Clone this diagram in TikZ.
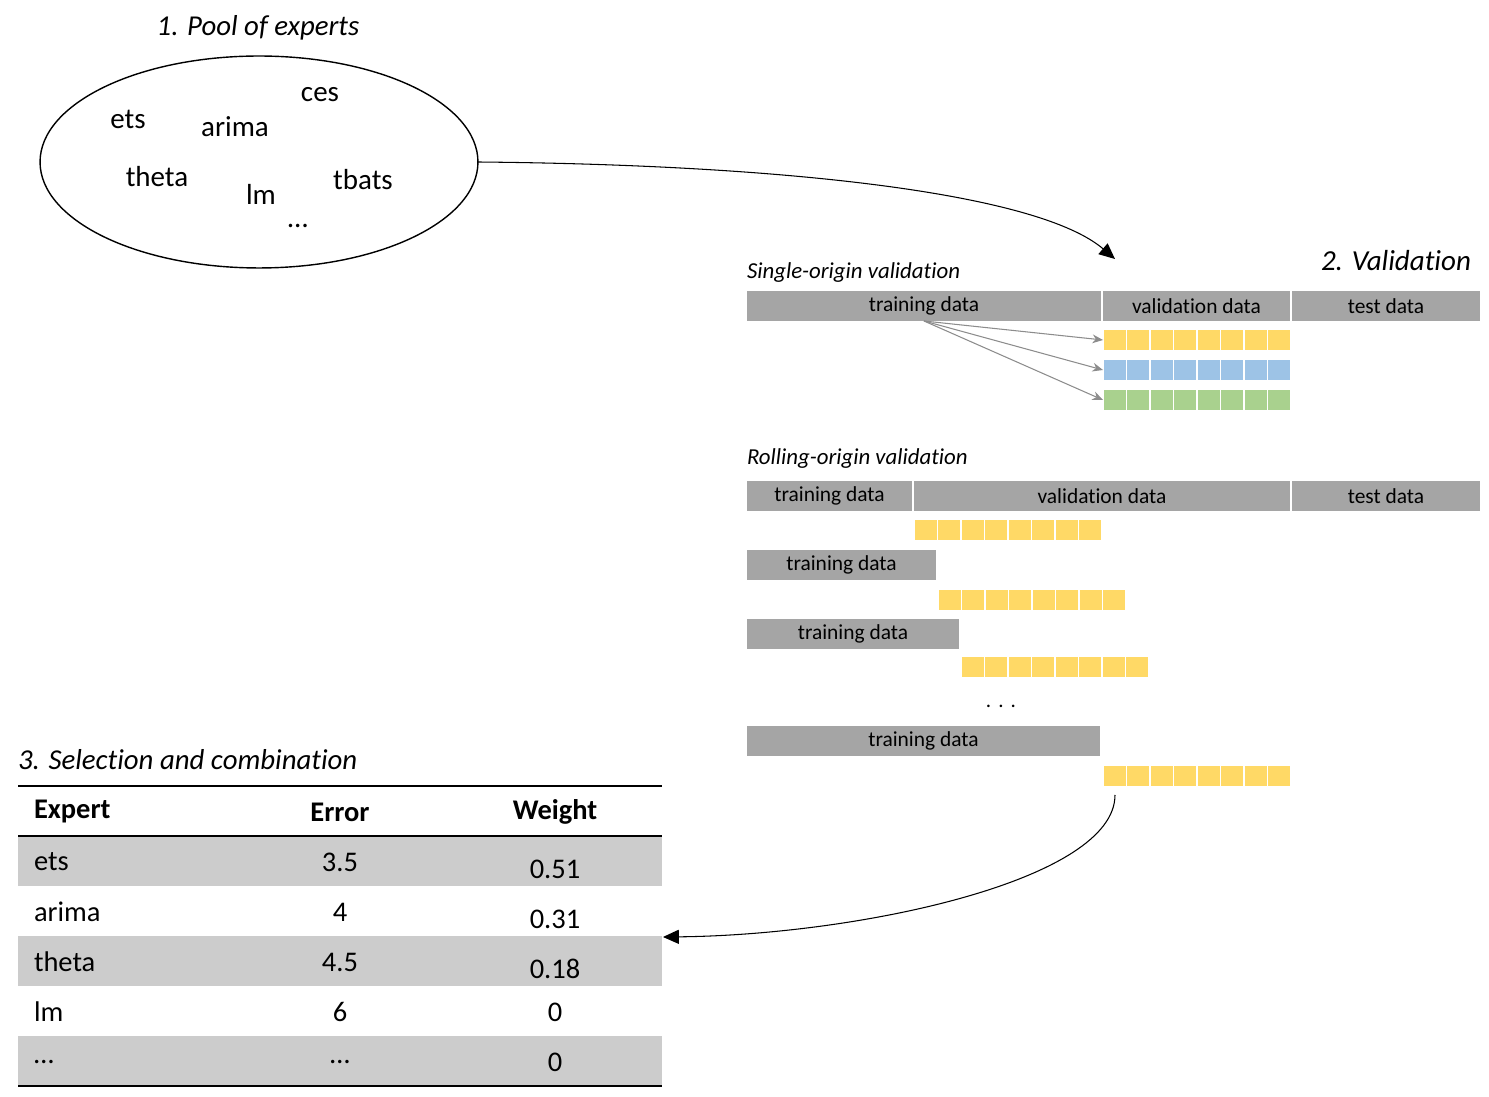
\documentclass[tikz,border=0pt]{standalone}
\usepackage{fontspec}
\setmainfont{Carlito}[Ligatures=NoCommon]
\usetikzlibrary{positioning, arrows.meta, shapes.geometric}

\definecolor{bargray}{HTML}{A5A5A5}
\definecolor{rowgray}{HTML}{CCCCCC}
\definecolor{sqyellow}{HTML}{FFD966}
\definecolor{sqblue}{HTML}{9DC3E6}
\definecolor{sqgreen}{HTML}{A9D18E}
\definecolor{arrgray}{HTML}{8C8C8C}

\newcommand{\fs}[1]{\fontsize{#1}{#1}\selectfont}

% eight squares, west end named #1
\newcommand{\squarerow}[4]{%
  \foreach \k in {0,...,7}
    \fill[#4] (#2+\k*23.5+0.75,#3) rectangle ++(22,20);
  \coordinate (#1) at (#2,#3+10);
}

\begin{document}
\begin{tikzpicture}[
    x=0.02cm, y=-0.02cm,
    every node/.style={inner sep=0pt, outer sep=0pt},
    word/.style={font=\fs{16.5}},
    title/.style={font=\fs{16.4}\itshape},
    subtitle/.style={font=\fs{13}\itshape, anchor=west},
    bar/.style={fill=bargray, minimum height=0.6cm, anchor=north west, font=\fs{12.2}},
    cell/.style={font=\fs{16.2}},
    head/.style={font=\fs{16.2}\bfseries},
    thin arrow/.style={draw=arrgray, line width=0.6pt, -{Stealth[length=6pt, width=5pt]}},
    flow/.style={draw, line width=0.6pt, -{Triangle[length=9pt, width=8pt]}}
]
\useasboundingbox (0,0) rectangle (1489,1097);

% 1. pool of experts
\node[title] (t1) at (258,28) {1. Pool of experts};
\node[draw, ellipse, line width=0.8pt, minimum width=8.76cm, minimum height=4.24cm] (pool) at (259,162) {};
\node[word] (ets) at (128,119) {ets};
\node[word] (arima) at (235,127) {arima};
\node[word] (ces) at (320,95) {ces};
\node[word] (theta) at (157,177) {theta};
\node[word] (lm) at (261,194) {lm};
\node[word] (tbats) at (363,180) {tbats};
\node[word] (more) at (298,226) {…};

% 2. validation
\node[title, font=\fs{16.5}\itshape] (t2) at (1396,261) {2. Validation};
\coordinate (valin) at (1115,259);
\draw[flow] (pool.east) .. controls (800,165) and (1040,195) .. (valin);

\node[subtitle] (single) at (747,273) {Single-origin validation};
\node[bar, minimum width=7.08cm] (strain) at (747,291) {training data};
\node[bar, minimum width=3.74cm] (sval) at (1103,291) {validation data};
\node[bar, minimum width=3.76cm] (stest) at (1292,291) {test data};
\squarerow{sy}{1103}{330}{sqyellow}
\squarerow{sb}{1103}{360}{sqblue}
\squarerow{sg}{1103}{390}{sqgreen}
\foreach \r in {sy,sb,sg}
  \draw[thin arrow] (strain.south) -- (\r);

\node[subtitle] (rolling) at (747,459) {Rolling-origin validation};
\node[bar, minimum width=3.3cm] (rtrain) at (747,481) {training data};
\node[bar, minimum width=7.52cm] (rval) at (914,481) {validation data};
\node[bar, minimum width=3.76cm] (rtest) at (1292,481) {test data};
\squarerow{r1}{914}{520}{sqyellow}
\node[bar, minimum width=3.78cm] (rtrain2) at (747,550) {training data};
\squarerow{r2}{938}{590}{sqyellow}
\node[bar, minimum width=4.24cm] (rtrain3) at (747,619) {training data};
\squarerow{r3}{961}{657}{sqyellow}
\node[font=\fs{12}] (gap) at (1001,706) {.\,\,.\,\,.};
\node[bar, minimum width=7.06cm] (rtrainn) at (747,726) {training data};
\squarerow{rn}{1103}{766}{sqyellow}

% 3. selection and combination
\node[title, anchor=west] (t3) at (18,760) {3. Selection and combination};
\foreach \y in {836,936,1036}
  \fill[rowgray] (18,\y) rectangle (662,\y+50);
\draw[line width=1.2pt] (18,786) -- (662,786);
\draw[line width=1.2pt] (18,836) -- (662,836);
\draw[line width=1.2pt] (18,1086) -- (662,1086);
\node[head, anchor=west] (hexp) at (34,812) {Expert};
\node[head] (herr) at (340,812) {Error};
\node[head] (hw) at (555,812) {Weight};
\foreach \name/\err/\w/\dy [count=\i] in {ets/3.5/0.51/7, arima/4/0.31/7, theta/4.5/0.18/7, lm/6/0/0, …/…/0/0} {
  \node[cell, anchor=west] (e\i) at (34,812+\i*50) {\name};
  \node[cell] (r\i) at (340,812+\i*50) {\err};
  \node[cell] (w\i) at (555,812+\i*50+\dy) {\w};
}
\coordinate (rnout) at (1115,795);
\coordinate (tabin) at (663,937);
\draw[flow] (rnout) .. controls (1115,880) and (860,935) .. (tabin);
\end{tikzpicture}
\end{document}
